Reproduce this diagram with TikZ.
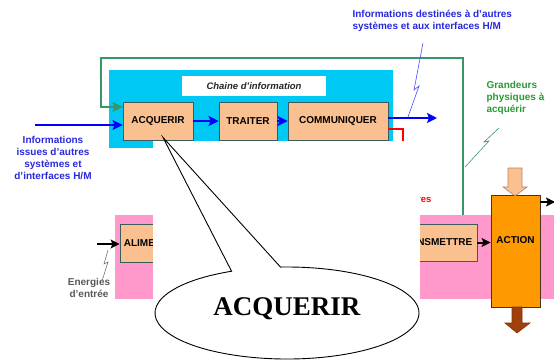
\documentclass[tikz,border=0pt]{standalone}
\usepackage{fontspec}
\setmainfont{Liberation Sans}
\newfontfamily\bubblefont{Liberation Serif}
\usetikzlibrary{arrows.meta,shapes.callouts}

\definecolor{chaincyan}{RGB}{0,200,245}
\definecolor{energypink}{RGB}{255,153,204}
\definecolor{taskpeach}{RGB}{250,192,144}
\definecolor{boxline}{RGB}{60,90,90}
\definecolor{actionorange}{RGB}{255,153,0}
\definecolor{loopgreen}{RGB}{56,150,106}
\definecolor{infoblue}{RGB}{40,40,220}
\definecolor{textgreen}{RGB}{40,155,50}
\definecolor{powerbrown}{RGB}{160,64,10}

\begin{document}
\begin{tikzpicture}[
    x=1pt,
    y=-1pt,
    node distance=90pt,
    font=\fontsize{10}{12}\selectfont\bfseries,
    task/.style={
        rectangle,
        draw=boxline,
        fill=taskpeach,
        line width=0.9pt,
        minimum height=38pt,
        inner sep=3pt
    },
    flow/.style={
        -{Stealth[length=10pt,width=10pt,inset=2pt]},
        line width=2.2pt,
        draw=blue
    },
    power/.style={
        -{Stealth[length=9pt,width=9pt,inset=2pt]},
        line width=2pt,
        draw=black
    },
    spark/.style={
        line width=0.6pt
    },
    blockarrow/.style={
        line width=0.6pt,
        line join=miter
    },
    bubble/.style={
        ellipse callout,
        draw,
        fill=white,
        line width=0.9pt,
        minimum width=264pt,
        minimum height=92pt,
        callout pointer arc=22,
        font=\bubblefont\fontsize{27}{30}\selectfont\bfseries,
        text height=18pt,
        text depth=14pt
    }
]
\useasboundingbox (0,0) rectangle (554,361);

% Bands
\fill[energypink] (115,215) rectangle (554,299);
\fill[chaincyan] (109,70) rectangle (393,148);
\node[fill=white, minimum width=144pt, minimum height=20pt, inner sep=0pt,
      font=\fontsize{9.5}{11}\selectfont\bfseries\itshape, text=black!85] (chainlabel) at (254,86) {Chaine d'information};

% Information chain
\node [task, minimum width=70pt] (acquerir) at (158,121) {ACQUERIR};
\node [task, minimum width=58pt, right of=acquerir] (traiter) {TRAITER};
\node [task, minimum width=100pt, right of=traiter] (communiquer) {COMMUNIQUER};

% Energy chain
\node [task, minimum width=66pt, minimum height=38pt] (alimenter) at (153,243) {ALIMENTER};
\node [task, minimum width=85pt, minimum height=37pt] (transmettre) at (434.5,242.5) {TRANSMETTRE};
\node [task, fill=actionorange, draw=black!60!brown, minimum width=49pt, minimum height=112pt,
       text height=7pt, text depth=22pt] (action) at (515.5,251) {ACTION};

% Block arrows on the action
\filldraw[blockarrow, fill=taskpeach, draw=taskpeach!70!black]
    (508,168) -- (522,168) -- (522,187) -- (527,187) -- (515,196) -- (503,187) -- (508,187) -- cycle;
\filldraw[blockarrow, fill=powerbrown, draw=powerbrown!80!black]
    (512,307) -- (522,307) -- (522,323) -- (530,323) -- (517,333) -- (505,323) -- (512,323) -- cycle;

% Loop of physical quantities
\coordinate (gsrc) at (463,215);
\coordinate (gtop) at (101,58);
\draw [line width=2.2pt, loopgreen, -{Stealth[length=10pt,width=10pt,inset=2pt]}]
    (gsrc) |- (gtop) |- ([yshift=14pt]acquerir.west);

% Information flow
\coordinate (infoin) at (35,125);
\coordinate (infoout) at (437,118);
\draw [flow] (infoin) -- (infoin -| acquerir.west);
\draw [flow] (acquerir) -- (traiter);
\draw [flow] (traiter) -- (communiquer);
\draw [flow] ([yshift=3pt]communiquer.east) -- (infoout);

% Orders
\coordinate (orddrop) at (403,190);
\draw [line width=1.6pt, red] ([yshift=-8pt]communiquer.east) -| (orddrop);
\node [anchor=east, text=red, font=\fontsize{9.5}{11}\selectfont\bfseries] (ordres) at (435,199) {Ordres};

% Energy flow
\coordinate (energyin) at (97,244);
\coordinate (actionout) at (555,202);
\draw [power] (energyin) -- (energyin -| alimenter.west);
\draw [power] (transmettre.east) -- (transmettre.east -| action.west);
\draw [power] (action.east |- actionout) -- (actionout);

% Texts
\node [align=center, text=infoblue] (infosrc) at (53,158) {Informations\\issues d'autres\\systèmes et\\d'interfaces H/M};
\node [align=left, anchor=west, text=infoblue] (infodst) at (349,21) {Informations destinées à d'autres\\systèmes et aux interfaces H/M};
\node [align=left, anchor=west, text=textgreen] (grandeurs) at (483,98) {Grandeurs\\physiques à\\acquérir};
\node [align=center, text=black!65] (energies) at (89,288) {Energies\\d'entrée};

% Sparks
\draw [spark, blue!70] (423,43) -- (414,90) -- (419,86) -- (408,117);
\draw [spark, loopgreen] (499,128) -- (484,142) -- (489,141) -- (465,167);
\draw [spark, black!55] (108,250) -- (104,264) -- (108,262) -- (102,281);

% Cover and callout
\fill[white] (153,141) rectangle (420,361);
\node [bubble, callout absolute pointer={([xshift=5pt,yshift=3pt]acquerir.south)}] (zoom) at (287,313) {ACQUERIR};

\end{tikzpicture}
\end{document}
